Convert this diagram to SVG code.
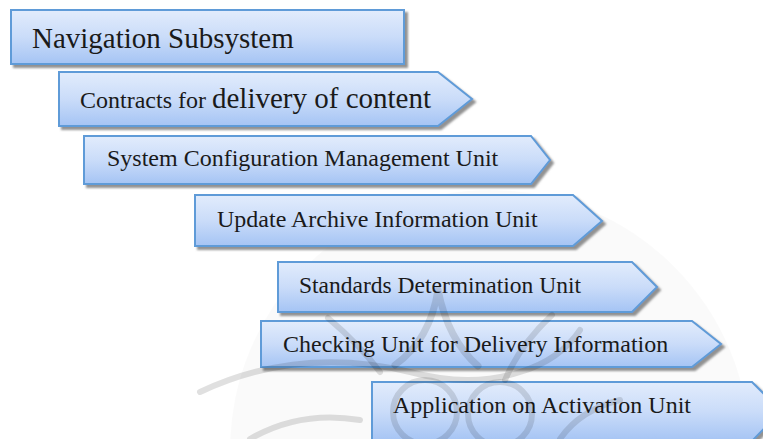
<svg xmlns="http://www.w3.org/2000/svg" width="763" height="439" viewBox="0 0 763 439">
<defs>
<linearGradient id="g" x1="0" y1="0" x2="0" y2="1">
<stop offset="0" stop-color="#e2ecfc"/>
<stop offset="0.5" stop-color="#cadcf9"/>
<stop offset="1" stop-color="#a5c4f4"/>
</linearGradient>
<filter id="sh" x="-5%" y="-20%" width="115%" height="150%">
<feDropShadow dx="3" dy="3" stdDeviation="1" flood-color="#7f7f7f" flood-opacity="0.85"/>
</filter>
<style>
.box{fill:url(#g);stroke:#5f9bd8;stroke-width:2;filter:url(#sh)}
.t{font-family:"Liberation Serif","Times New Roman",serif;fill:#1a1a1a;font-size:24px}
.wm{fill:none;stroke:#000;stroke-opacity:0.12;stroke-linecap:round}
</style>
</defs>
<rect width="763" height="439" fill="#ffffff"/>
<circle cx="490" cy="450" r="260" fill="#000" fill-opacity="0.02"/>
<g id="n1">
<rect class="box" x="11" y="10" width="393" height="54"/>
<text class="t" x="32" y="48" style="font-size:29px">Navigation Subsystem</text>
</g>
<g id="n2">
<polygon class="box" points="59,72 438,72 472,99 438,126 59,126"/>
<text class="t" x="80" y="108">Contracts for <tspan style="font-size:29px">delivery of content</tspan></text>
</g>
<g id="n3">
<polygon class="box" points="84,136 531,136 550,160 531,184 84,184"/>
<text class="t" x="107" y="166">System Configuration Management Unit</text>
</g>
<g id="n4">
<polygon class="box" points="195,195 573,195 602,221 573,246 195,246"/>
<text class="t" x="217" y="227">Update Archive Information Unit</text>
</g>
<g id="n5">
<polygon class="box" points="278,262 632,262 657,287 632,312 278,312"/>
<text class="t" x="299" y="293" style="font-size:23.5px">Standards Determination Unit</text>
</g>
<g id="n6">
<polygon class="box" points="261,321 692,321 721,344 692,367 261,367"/>
<text class="t" x="283" y="352">Checking Unit for Delivery Information</text>
</g>
<g id="n7">
<polygon class="box" points="372,382 752,382 781,411 752,441 372,441"/>
<text class="t" x="393" y="413">Application on Activation Unit</text>
</g>
<g id="connectors"/>
<g id="watermark">
<path class="wm" stroke-width="7" d="M438 290 Q430 340 395 365 M438 290 Q448 340 478 366"/>
<path class="wm" stroke-width="6" d="M552 315 Q520 345 505 380"/>
<path class="wm" stroke-width="6" d="M328 318 Q360 345 380 372"/>
<path class="wm" stroke-width="6" d="M200 392 Q300 345 410 372 Q470 388 520 372 Q560 360 580 330"/>
<circle class="wm" stroke-width="6" cx="425" cy="412" r="32"/>
<circle class="wm" stroke-width="6" cx="500" cy="414" r="32"/>
<path class="wm" stroke-width="6" d="M250 439 Q300 410 360 420 M560 439 Q580 410 620 400"/>
</g>
</svg>
